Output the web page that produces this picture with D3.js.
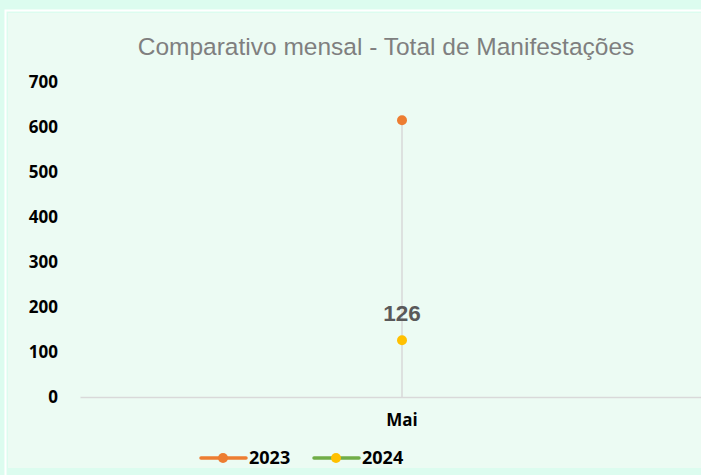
<!DOCTYPE html>
<html>
<head>
<meta charset="utf-8">
<script src="https://cdn.jsdelivr.net/npm/d3@7"></script>
<style>
  body { margin: 0; background: #dcfcef; overflow: hidden; }
  svg { display: block; }
</style>
</head>
<body>
<script>
var width = 701,
    height = 475;

// data
var months = ["Mai"];
var years = ["2023", "2024"];
var values2023 = [615];
var values2024 = [126];
var yTicks = [0, 100, 200, 300, 400, 500, 600, 700];

var lineColors = { "2023": "#ed7d31", "2024": "#70ad47" };
var markerColors = { "2023": "#ed7d31", "2024": "#ffc000" };

var svg = d3.select("body").append("svg")
    .attr("width", width)
    .attr("height", height);

// panel
svg.append("rect")
    .attr("x", 5.5).attr("y", 10.5)
    .attr("width", width).attr("height", 470)
    .attr("fill", "none").attr("stroke", "#ffffff").attr("stroke-width", 2);
svg.append("rect")
    .attr("x", 8).attr("y", 13)
    .attr("width", width).attr("height", 455)
    .attr("fill", "#ecfbf3");

var x = d3.scaleBand().domain(months).range([80, 724]);
var y = d3.scaleLinear().domain([0, 700]).range([397, 82]);

// title
svg.append("text")
    .attr("x", 386).attr("y", 55)
    .attr("text-anchor", "middle")
    .style("font-family", "'Liberation Sans', Arial, sans-serif")
    .style("font-size", "24.5px")
    .style("fill", "#7f7f7f")
    .text("Comparativo mensal - Total de Manifestações");

// y axis
var yAxis = svg.append("g")
    .attr("transform", "translate(80,0)")
    .call(d3.axisLeft(y).tickValues(yTicks).tickSize(0).tickPadding(22));
yAxis.select(".domain").remove();
yAxis.selectAll("text")
    .style("font-family", "'Open Sans', sans-serif")
    .style("font-weight", "bold")
    .style("font-size", "17px")
    .style("fill", "#000");

// x axis
var xAxis = svg.append("g")
    .attr("transform", "translate(0,397)")
    .call(d3.axisBottom(x).tickSize(0).tickPadding(17));
xAxis.select(".domain").attr("stroke", "#d9d9d9").attr("stroke-width", 1.5);
xAxis.selectAll("text")
    .style("font-family", "'Open Sans', sans-serif")
    .style("font-weight", "bold")
    .style("font-size", "17px")
    .style("fill", "#000");

var cx = function(d, i) { return x(months[i]) + x.bandwidth() / 2; };

// drop lines
svg.selectAll(".drop")
    .data(values2023)
  .enter().append("line")
    .attr("class", "drop")
    .attr("x1", cx).attr("x2", cx)
    .attr("y1", function(d) { return y(d); })
    .attr("y2", y(0))
    .attr("stroke", "#d9d9d9")
    .attr("stroke-width", 1.5);

// markers
var series = [
  { name: "2023", values: values2023 },
  { name: "2024", values: values2024 }
];

series.forEach(function(s) {
  svg.selectAll(".m" + s.name)
      .data(s.values)
    .enter().append("circle")
      .attr("cx", cx)
      .attr("cy", function(d) { return y(d); })
      .attr("r", 5)
      .attr("fill", markerColors[s.name]);
});

// data label for 2024
svg.selectAll(".lbl")
    .data(values2024)
  .enter().append("text")
    .attr("x", cx)
    .attr("y", function(d) { return y(d) - 19; })
    .attr("text-anchor", "middle")
    .style("font-family", "'Liberation Sans', Arial, sans-serif")
    .style("font-weight", "bold")
    .style("font-size", "22.5px")
    .style("fill", "#595959")
    .text(function(d) { return d; });

// legend
var legend = svg.append("g").attr("transform", "translate(201,458)");
var item = legend.selectAll("g")
    .data(years)
  .enter().append("g")
    .attr("transform", function(d, i) { return "translate(" + (i * 113) + ",0)"; });
item.append("line")
    .attr("x1", 0).attr("x2", 45)
    .attr("stroke", function(d) { return lineColors[d]; })
    .attr("stroke-width", 3.5)
    .attr("stroke-linecap", "round");
item.append("circle")
    .attr("cx", 22).attr("r", 5)
    .attr("fill", function(d) { return markerColors[d]; });
item.append("text")
    .attr("x", 48).attr("dy", "0.35em")
    .style("font-family", "'Open Sans', sans-serif")
    .style("font-weight", "bold")
    .style("font-size", "18px")
    .style("fill", "#000")
    .text(function(d) { return d; });
</script>
</body>
</html>
